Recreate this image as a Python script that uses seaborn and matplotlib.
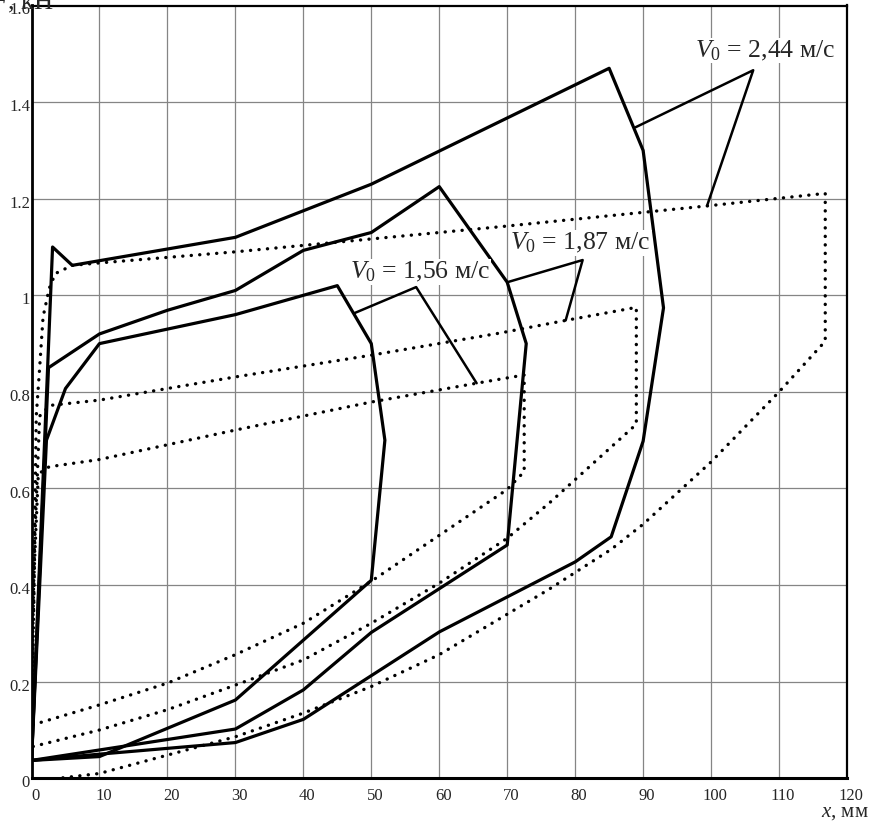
import numpy as np
import pandas as pd
import seaborn as sns
from matplotlib import pyplot as plt
from matplotlib.transforms import ScaledTranslation

# solid curves (force vs displacement), one loop per initial velocity
x_156 = [0, 2.2, 5, 10, 30, 45, 50, 52, 50, 30, 10, 0]
y_156 = [0.037, 0.70, 0.807, 0.90, 0.96, 1.02, 0.90, 0.70, 0.41, 0.162, 0.045, 0.037]

x_187 = [0, 2.5, 10, 20, 30, 40, 50, 60, 70, 72.8, 70, 50, 40, 30, 0]
y_187 = [0.037, 0.85, 0.92, 0.969, 1.01, 1.093, 1.13, 1.225, 1.027, 0.90, 0.483, 0.302, 0.183, 0.102, 0.037]

x_244 = [0, 3.1, 6, 30, 50, 85, 90, 93, 90, 85.3, 80, 60, 40, 30, 10, 0]
y_244 = [0.037, 1.10, 1.062, 1.12, 1.23, 1.47, 1.30, 0.974, 0.698, 0.50, 0.448, 0.303, 0.122, 0.074, 0.05, 0.037]

# dotted curves
xd_156 = [0, 0.3, 1, 2.6, 10, 30, 50, 65.5, 72.5, 72.5, 70, 50, 40, 30, 20, 10, 0]
yd_156 = [0.11, 0.40, 0.63, 0.645, 0.66, 0.721, 0.779, 0.818, 0.835, 0.635, 0.598, 0.408, 0.321, 0.256, 0.197, 0.152, 0.11]

xd_187 = [0, 0.5, 1.2, 2.7, 10, 30, 50, 69, 78.6, 89, 89, 76.2, 70, 60, 50, 40, 30, 20, 10, 0]
yd_187 = [0.065, 0.50, 0.75, 0.772, 0.783, 0.831, 0.876, 0.922, 0.948, 0.975, 0.733, 0.57, 0.497, 0.404, 0.321, 0.245, 0.193, 0.142, 0.10, 0.065]

xd_244 = [0.3, 0.7, 1.2, 1.7, 2.6, 3.5, 6, 10, 30, 69, 99.4, 116.8, 116.8, 110, 100, 90, 85.3, 76, 60, 50, 40, 30, 10, 4]
yd_244 = [0.35, 0.75, 0.85, 0.955, 1.014, 1.045, 1.062, 1.067, 1.09, 1.142, 1.185, 1.211, 0.905, 0.80, 0.655, 0.526, 0.474, 0.39, 0.256, 0.19, 0.135, 0.086, 0.01, 0.0]

# label leaders: solid curve -> vertex -> dotted curve
labels = ["1,56", "1,87", "2,44"]
leader_x = [[47.5, 56.6, 65.5], [70.0, 81.1, 78.6], [88.9, 106.2, 99.4]]
leader_y = [[0.963, 1.017, 0.818], [1.027, 1.073, 0.948], [1.348, 1.466, 1.185]]
label_x = [57.2, 80.8, 107.9]
label_y = [1.048, 1.108, 1.507]

sns.set_theme(style="white")
plt.rcParams["font.family"] = ["Liberation Serif", "DejaVu Serif"]
plt.rcParams["mathtext.fontset"] = "custom"
plt.rcParams["mathtext.rm"] = "Liberation Serif"
plt.rcParams["mathtext.it"] = "Liberation Serif:italic"

fig = plt.figure(figsize=(8.71, 8.22), dpi=100)
ax = fig.add_axes([31.5 / 871, 1 - 778.3 / 822, (847 - 31.5) / 871, (778.3 - 5.5) / 822])

for xs, ys in [(x_156, y_156), (x_187, y_187), (x_244, y_244)]:
    sns.lineplot(x=xs, y=ys, sort=False, estimator=None, color="black", lw=2.3, ax=ax, zorder=3)

for xs, ys in [(xd_156, yd_156), (xd_187, yd_187), (xd_244, yd_244)]:
    sns.lineplot(x=xs, y=ys, sort=False, estimator=None, color="black", lw=2.4,
                 linestyle=(0, (0.05, 2.5)), dash_capstyle="round", ax=ax, zorder=3)

for lab, lx, ly, tx, ty in zip(labels, leader_x, leader_y, label_x, label_y):
    sns.lineplot(x=lx, y=ly, sort=False, estimator=None, color="black", lw=1.8, ax=ax, zorder=3)
    ax.text(tx, ty, rf"$V_0$ = {lab} м/с", fontsize=18.5, ha="center", va="center", zorder=4,
            bbox=dict(facecolor="white", edgecolor="none", pad=0.5))

ax.set_xlim(0, 120)
ax.set_ylim(0, 1.6)
ax.set_xticks(np.arange(0, 121, 10))
ax.set_yticks(np.arange(0, 1.61, 0.2))
ax.set_yticklabels([f"{v:g}" for v in np.arange(0, 1.61, 0.2).round(1)])
ax.grid(True, color="#858585", lw=0.9)
ax.tick_params(axis="both", length=0, labelsize=12)
ax.tick_params(axis="x", pad=7)
ax.tick_params(axis="y", pad=1)
for sp in ax.spines.values():
    sp.set_color("black")
    sp.set_linewidth(1.6)
    sp.set_zorder(5)
ax.spines["bottom"].set_linewidth(2.2)
ax.spines["left"].set_linewidth(2.0)

offset = ScaledTranslation(4 / 100, 0, fig.dpi_scale_trans)
for lab in ax.get_xticklabels():
    lab.set_transform(lab.get_transform() + offset)
yoff = ScaledTranslation(0, -3 / 100, fig.dpi_scale_trans)
for lab in ax.get_yticklabels():
    lab.set_transform(lab.get_transform() + yoff)

fig.text(0.997, 5 / 822, r"$x$, мм", fontsize=15, ha="right", va="baseline")
fig.text(54 / 871, 1 - 9 / 822, r"$F$, кН", fontsize=19, ha="right", va="baseline")

fig.savefig("out.png", dpi=100)
